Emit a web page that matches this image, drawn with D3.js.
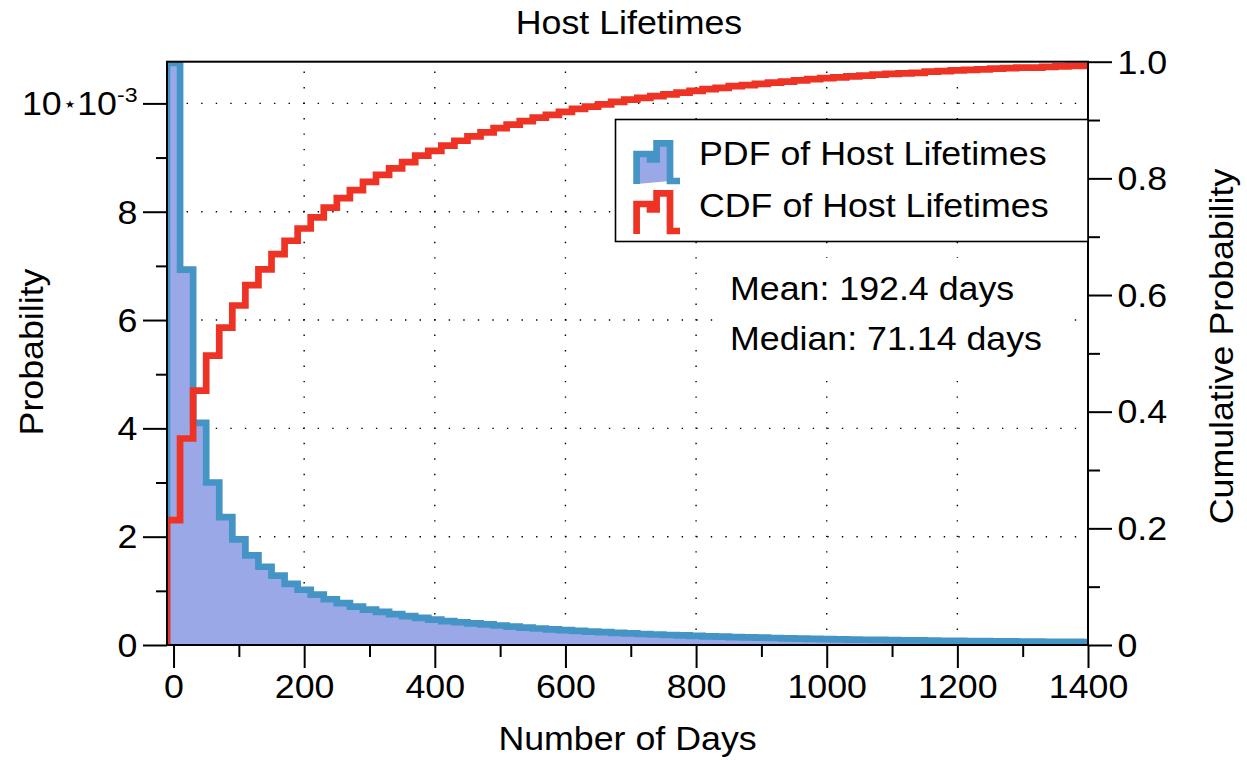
<!DOCTYPE html>
<html>
<head>
<meta charset="utf-8">
<script src="https://cdn.jsdelivr.net/npm/d3@7"></script>
<style>
  html, body { margin: 0; padding: 0; background: #fff; }
  svg text { font-family: "Liberation Sans", Arial, Helvetica, sans-serif; fill: #000; }
</style>
</head>
<body>
<svg id="chart" width="1247" height="760"></svg>
<script>
// Histogram bins: 20-day bins centred on 0, 20, 40, ... 1400 days
const binWidth = 20;
const firstBinCenter = 0;

// Probability per day (x 10^-3) for each bin
const pdfValues = [
  10.75, 6.93, 4.10, 3.00, 2.36, 1.95, 1.655, 1.445, 1.28, 1.13,
  1.02, 0.93, 0.845, 0.775, 0.71, 0.655, 0.61, 0.57, 0.535, 0.50,
  0.47, 0.44, 0.42, 0.40, 0.38, 0.36, 0.34, 0.32, 0.305, 0.29,
  0.275, 0.26, 0.248, 0.236, 0.225, 0.213, 0.203, 0.194, 0.185, 0.176,
  0.168, 0.161, 0.154, 0.147, 0.141, 0.135, 0.129, 0.124, 0.119, 0.114,
  0.109, 0.105, 0.101, 0.097, 0.093, 0.090, 0.087, 0.084, 0.081, 0.078,
  0.075, 0.073, 0.070, 0.068, 0.066, 0.064, 0.062, 0.060, 0.058, 0.057,
  0.055
];

// Cumulative probability at the end of each bin
const cdfValues = [
  0.214, 0.354, 0.436, 0.496, 0.544, 0.582, 0.617, 0.644, 0.670, 0.693,
  0.714, 0.733, 0.750, 0.766, 0.780, 0.794, 0.806, 0.817, 0.828, 0.839,
  0.847, 0.856, 0.8645, 0.872, 0.879, 0.886, 0.892, 0.898, 0.904, 0.909,
  0.914, 0.919, 0.923, 0.927, 0.931, 0.935, 0.938, 0.941, 0.944, 0.947,
  0.950, 0.953, 0.955, 0.958, 0.960, 0.962, 0.964, 0.966, 0.968, 0.970,
  0.972, 0.973, 0.975, 0.976, 0.978, 0.979, 0.980, 0.981, 0.983, 0.984,
  0.985, 0.986, 0.987, 0.988, 0.989, 0.990, 0.990, 0.991, 0.992, 0.993,
  0.993
];

// Axis ticks
const xTicks = [0, 200, 400, 600, 800, 1000, 1200, 1400];
const xMinorTicks = [100, 300, 500, 700, 900, 1100, 1300];
const yLeftTicks = [0, 2, 4, 6, 8, 10];
const yLeftMinorTicks = [1, 3, 5, 7, 9];
const yRightTicks = [0, 0.2, 0.4, 0.6, 0.8, 1.0];
const yRightMinorTicks = [0.1, 0.3, 0.5, 0.7, 0.9];

// Text
const titleText = "Host Lifetimes";
const xLabel = "Number of Days";
const yLeftLabel = "Probability";
const yRightLabel = "Cumulative Probability";
const legendLabels = ["PDF of Host Lifetimes", "CDF of Host Lifetimes"];
const statLines = ["Mean: 192.4 days", "Median: 71.14 days"];

// Styling
const FONT = 32.5;      // px
const SX = 1.1;         // horizontal glyph stretch of the face
const BLUE = "#4494c6";
const FILL = "#9aa8e8";
const RED = "#ee3325";
const LW = 6.7;

const plot = { left: 167, right: 1088, top: 61.7, bottom: 645 };

const svg = d3.select("#chart");

const x = d3.scaleLinear().domain([firstBinCenter - binWidth / 2, 1400]).range([plot.left, plot.right]);
const yL = d3.scaleLinear().domain([0, 10.77]).range([plot.bottom, plot.top]);
const yR = d3.scaleLinear().domain([0, 1]).range([plot.bottom, plot.top]);

// Clip for the data traces
svg.append("defs").append("clipPath").attr("id", "plotClip")
  .append("rect")
  .attr("x", plot.left).attr("y", plot.top)
  .attr("width", plot.right - plot.left).attr("height", plot.bottom - plot.top);

// Dotted grid
const grid = svg.append("g").attr("stroke", "#000").attr("stroke-width", 1.4);
grid.selectAll("line.h").data(yLeftTicks.filter(d => d > 0)).join("line")
  .attr("x1", plot.left).attr("x2", plot.right)
  .attr("y1", d => yL(d)).attr("y2", d => yL(d))
  .attr("stroke-dasharray", "1.4 13.16").attr("stroke-dashoffset", 9.5);
grid.selectAll("line.v").data(xTicks.filter(d => d > 0 && d < 1400)).join("line")
  .attr("y1", plot.top).attr("y2", plot.bottom)
  .attr("x1", d => x(d)).attr("x2", d => x(d))
  .attr("stroke-dasharray", "1.4 14.07").attr("stroke-dashoffset", 5.6);

// Step points for a histogram-style trace
function stepPoints(values) {
  const start = firstBinCenter - binWidth / 2;
  const pts = [{ x: start, v: 0 }];
  values.forEach((v, i) => pts.push({ x: start + i * binWidth, v }));
  const end = start + values.length * binWidth;
  pts.push({ x: end, v: values[values.length - 1] });
  pts.push({ x: end, v: 0 });
  return pts;
}

const traces = svg.append("g").attr("clip-path", "url(#plotClip)");

const pdfPts = stepPoints(pdfValues);
traces.append("path")
  .attr("d", d3.area().x(d => x(d.x)).y0(yL(0)).y1(d => yL(d.v)).curve(d3.curveStepAfter)(pdfPts))
  .attr("fill", FILL);
traces.append("path")
  .attr("d", d3.line().x(d => x(d.x)).y(d => yL(d.v)).curve(d3.curveStepAfter)(pdfPts))
  .attr("fill", "none").attr("stroke", BLUE).attr("stroke-width", LW)
  .attr("stroke-linejoin", "miter");

const cdfPts = stepPoints(cdfValues);
traces.append("path")
  .attr("d", d3.line().x(d => x(d.x)).y(d => yR(d.v)).curve(d3.curveStepAfter)(cdfPts))
  .attr("fill", "none").attr("stroke", RED).attr("stroke-width", LW)
  .attr("stroke-linejoin", "miter");

// Axes
function styleAxis(g) {
  g.attr("font-size", null).attr("font-family", null);
  g.select(".domain").remove();
  g.selectAll(".tick line").attr("stroke", "#000").attr("stroke-width", 2);
  g.selectAll(".tick text").attr("font-size", FONT).attr("fill", "#000");
}

// bottom
const gx = svg.append("g").attr("transform", `translate(0,${plot.bottom})`)
  .call(d3.axisBottom(x).tickValues(xTicks).tickSize(23).tickFormat(d3.format("d")));
styleAxis(gx);
gx.selectAll(".tick text").attr("y", 53).attr("dy", null).attr("transform", `scale(${SX},1)`);
const gxm = svg.append("g").attr("transform", `translate(0,${plot.bottom})`)
  .call(d3.axisBottom(x).tickValues(xMinorTicks).tickSize(12).tickFormat(""));
styleAxis(gxm);

// left
const gl = svg.append("g").attr("transform", `translate(${plot.left},0)`)
  .call(d3.axisLeft(yL).tickValues(yLeftTicks).tickSize(24).tickFormat(d3.format("d")));
styleAxis(gl);
gl.selectAll(".tick text").attr("x", -29.5 / SX).attr("y", 11.3).attr("dy", null)
  .attr("transform", `scale(${SX},1)`);
// top label carries the 10^-3 multiplier
gl.selectAll(".tick text").filter(d => d === 10).each(function () {
  const t = d3.select(this).text(null);
  t.append("tspan").text("10");
  t.append("tspan").attr("font-family", "DejaVu Sans").attr("font-size", 21).attr("dy", -4.5).attr("dx", 1).text("\u22C6");
  t.append("tspan").attr("dy", 4.5).attr("dx", 0).text("10");
  t.append("tspan").attr("font-size", 21).attr("dy", -13.5).text("-3");
});
const glm = svg.append("g").attr("transform", `translate(${plot.left},0)`)
  .call(d3.axisLeft(yL).tickValues(yLeftMinorTicks).tickSize(11).tickFormat(""));
styleAxis(glm);

// right
const gr = svg.append("g").attr("transform", `translate(${plot.right},0)`)
  .call(d3.axisRight(yR).tickValues(yRightTicks).tickSize(24)
    .tickFormat(d => d === 0 ? "0" : d3.format(".1f")(d)));
styleAxis(gr);
gr.selectAll(".tick text").attr("x", 29.5 / SX).attr("y", 11.3).attr("dy", null)
  .attr("transform", `scale(${SX},1)`);
const grm = svg.append("g").attr("transform", `translate(${plot.right},0)`)
  .call(d3.axisRight(yR).tickValues(yRightMinorTicks).tickSize(12).tickFormat(""));
styleAxis(grm);

// Frame
svg.append("rect")
  .attr("x", plot.left).attr("y", plot.top)
  .attr("width", plot.right - plot.left).attr("height", plot.bottom - plot.top)
  .attr("fill", "none").attr("stroke", "#000").attr("stroke-width", 2);

// Text helper: stretched label at a position, optional rotation
function label(str, px, py, anchor, rot) {
  return svg.append("text")
    .attr("transform", `translate(${px},${py})` + (rot ? ` rotate(${rot})` : "") + ` scale(${SX},1)`)
    .attr("text-anchor", anchor)
    .attr("font-size", FONT)
    .text(str);
}

label(titleText, 629, 33.5, "middle");
label(xLabel, 627.5, 750, "middle");
label(yLeftLabel, 43, 352, "middle", -90);
label(yRightLabel, 1233, 346.5, "middle", -90);

// Statistics box
svg.append("rect").attr("x", 716).attr("y", 258).attr("width", 346).attr("height", 110).attr("fill", "#fff");
label(statLines[0], 730, 300, "start");
label(statLines[1], 730, 350, "start");

// Legend
const lg = svg.append("g");
lg.append("rect").attr("x", 615.5).attr("y", 119.5).attr("width", plot.right - 615.5).attr("height", 122)
  .attr("fill", "#fff").attr("stroke", "#000").attr("stroke-width", 1.6);

const iconShape = [[3.3, 44], [3.3, 14], [16.7, 14], [16.7, 19.5], [23.3, 19.5], [23.3, 3.3], [36.7, 3.3], [36.7, 41], [46.7, 41]];
const iconLine = d3.line();
const legendRows = [
  { top: 140, stroke: BLUE, fill: FILL, baseline: 165, text: legendLabels[0] },
  { top: 190, stroke: RED, fill: null, baseline: 216.7, text: legendLabels[1] }
];
legendRows.forEach(r => {
  const g = lg.append("g").attr("transform", `translate(633.3,${r.top})`);
  if (r.fill) {
    g.append("path").attr("d", iconLine(iconShape.slice(0, 8)) + "Z").attr("fill", r.fill);
  }
  g.append("path").attr("d", iconLine(iconShape))
    .attr("fill", "none").attr("stroke", r.stroke).attr("stroke-width", LW).attr("stroke-linejoin", "miter");
  label(r.text, 699, r.baseline, "start");
});
</script>
</body>
</html>
